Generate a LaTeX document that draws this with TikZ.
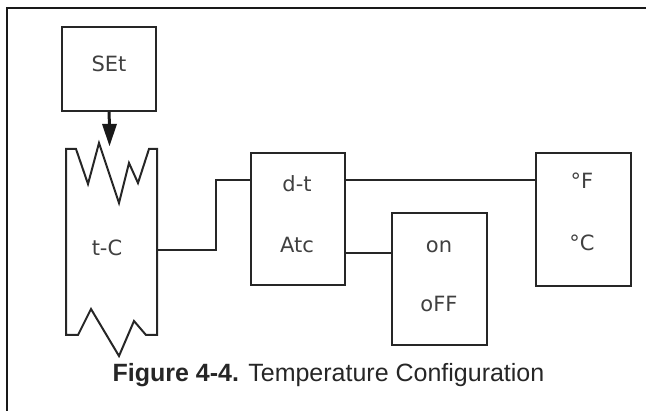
\documentclass[tikz,border=0pt]{standalone}
\usepackage{fontspec}
\setmainfont{Liberation Sans}
\newfontfamily\segfont{DejaVu Sans}
\begin{document}
\begin{tikzpicture}[x=1pt,y=-1pt,
  line join=miter,
  frameline/.style={line width=2pt,draw=black!90},
  boxln/.style={line width=2pt,draw=black!85},
  conn/.style={line width=2pt,draw=black!85},
  segtxt/.style={inner sep=0pt,text=black!75,font=\segfont\fontsize{21}{21}\selectfont},
  boxnode/.style={boxln,rectangle,inner sep=0pt}]
\useasboundingbox (0,0) rectangle (646,411);
% frame (top and left edges visible)
\draw[frameline] (7,411) -- (7,8.5) -- (646,8.5);
% SEt box
\node[boxnode,minimum width=94pt,minimum height=84pt] (set) at (109,69) {};
\node[segtxt] (settxt) at (109,64) {SEt};
% t-C shape
\draw[boxln] (66,149) -- (76,149) -- (88,184) -- (99,143) -- (119,203) -- (129,163) -- (138,183) -- (149,149) -- (157,149)
  -- (157,335) -- (146,335) -- (134,321) -- (119,356) -- (91,309) -- (78,335) -- (66,335) -- cycle;
\coordinate (tcR) at (157,250);
\coordinate (tip) at (109.5,146);
\node[segtxt] (tc) at (107,248) {t-C};
% arrow SEt -> t-C
\draw[line width=3pt,draw=black!90] (set.south) -- (109.5,126);
\fill[black!90] (102,124) -- (117,124) -- (tip) -- cycle;
% d-t / Atc box
\node[boxnode,minimum width=94pt,minimum height=132pt] (dt) at (298,219) {};
\node[segtxt] (dttxt) at (297,184) {d-t};
\node[segtxt] (atc) at (297,245) {Atc};
% on / oFF box
\node[boxnode,minimum width=95pt,minimum height=132pt] (onoff) at (439.5,279) {};
\node[segtxt] (on) at (439,247) {on};
\node[segtxt] (off) at (439,304) {oFF};
% degF / degC box
\node[boxnode,minimum width=95pt,minimum height=133pt] (deg) at (583.5,219.5) {};
\node[segtxt] (degf) at (582,181) {°F};
\node[segtxt] (degc) at (582,243) {°C};
% connectors
\coordinate (dtL) at (dt.west |- 0,180);
\coordinate (dtR) at (dt.east |- 0,180);
\coordinate (atcR) at (dt.east |- 0,253);
\draw[conn] (tcR) -- (216,250) -- (216,180) -- (dtL);
\draw[conn] (dtR) -- (deg.west |- dtR);
\draw[conn] (atcR) -- (onoff.west |- atcR);
% caption
\node[inner sep=0pt,anchor=base,font=\fontsize{25}{25}\selectfont,text=black!85] (cap) at (328.5,382) {\textbf{Figure 4-4.} Temperature Configuration};
\end{tikzpicture}
\end{document}
